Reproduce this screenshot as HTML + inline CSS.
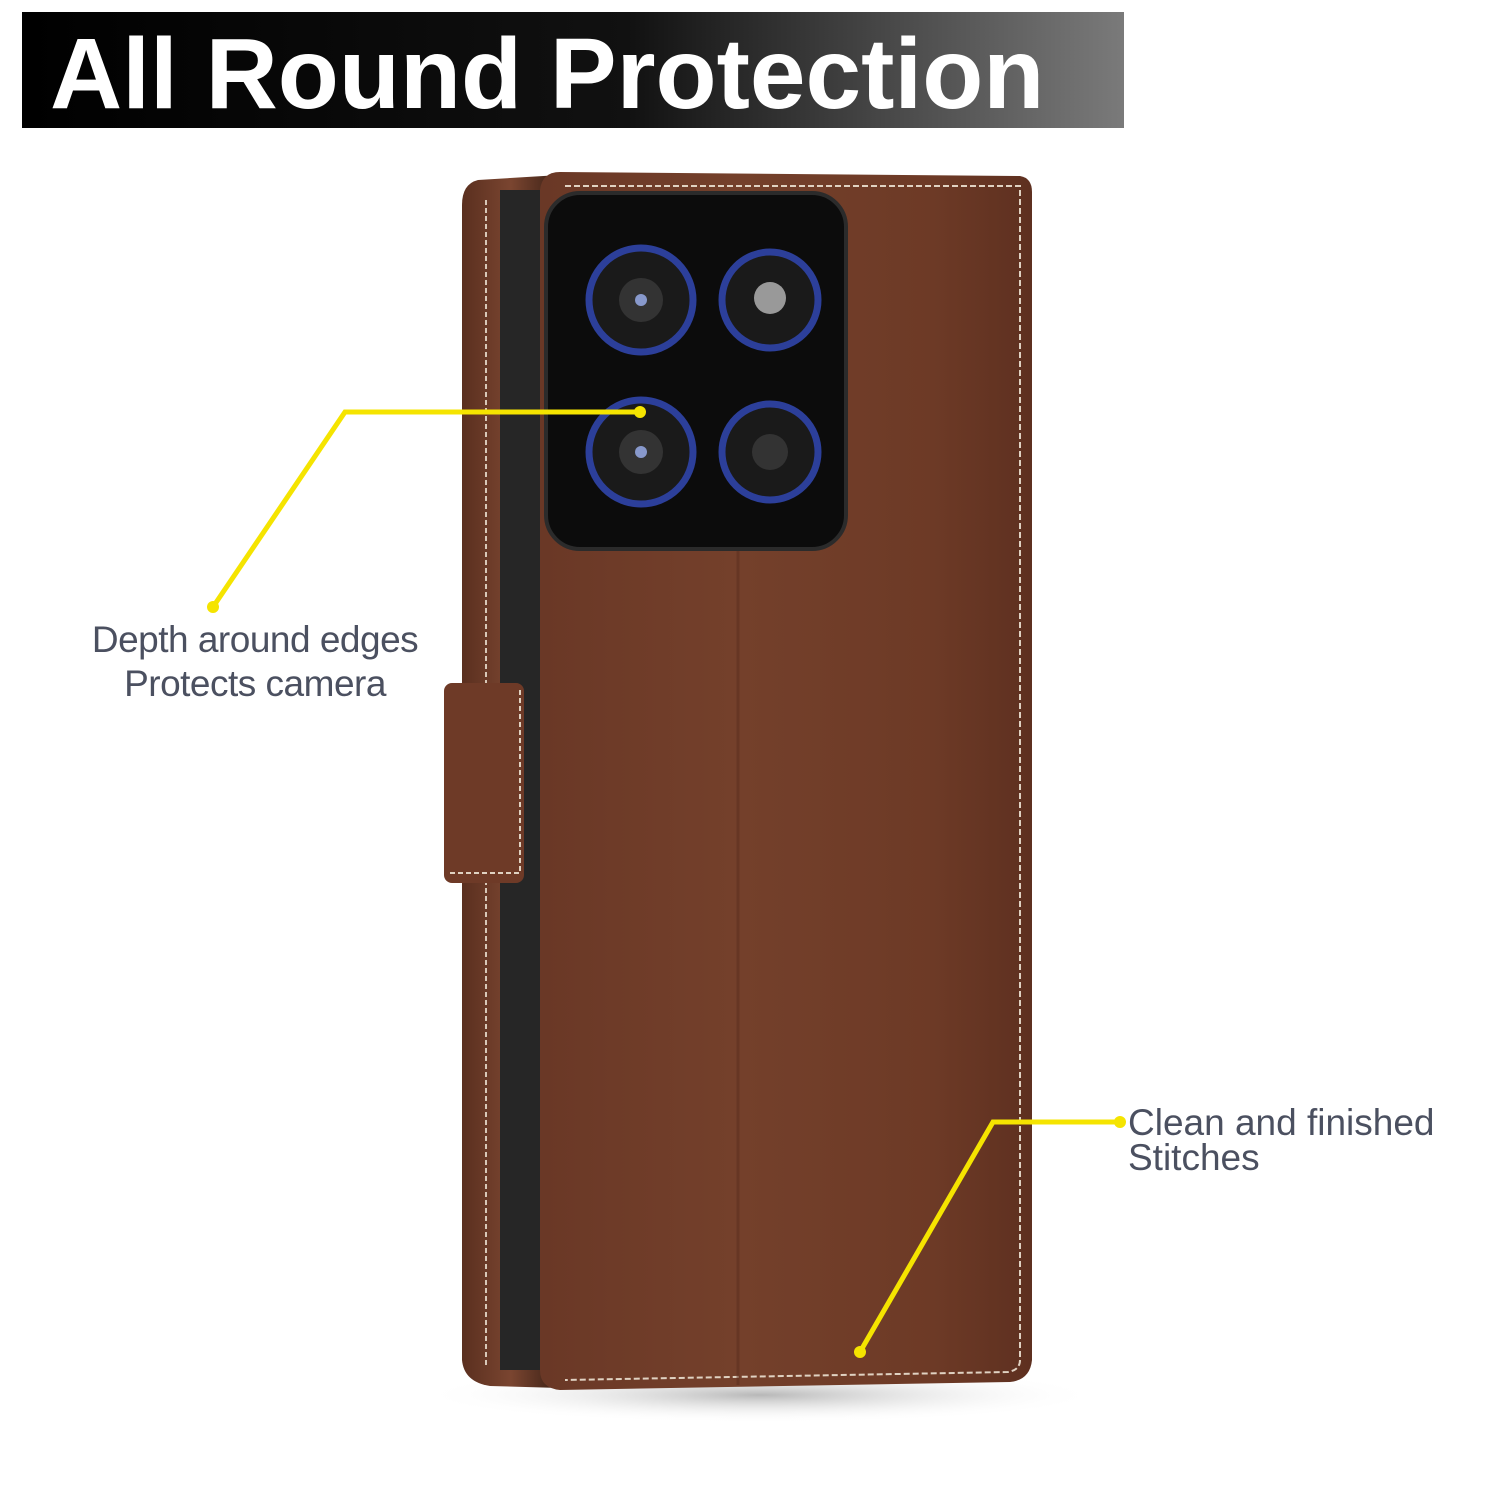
<!DOCTYPE html>
<html><head><meta charset="utf-8">
<style>
html,body{margin:0;padding:0;background:#fff;}
svg{display:block;}
</style></head>
<body>
<svg width="1500" height="1500" viewBox="0 0 1500 1500" xmlns="http://www.w3.org/2000/svg">
<defs>
<linearGradient id="tb" x1="0" x2="1" y1="0" y2="0">
<stop offset="0" stop-color="#000"/><stop offset="0.55" stop-color="#111"/><stop offset="1" stop-color="#7a7a7a"/>
</linearGradient>
<linearGradient id="back" x1="0" x2="1" y1="0" y2="0">
<stop offset="0" stop-color="#6a3826"/><stop offset="0.4" stop-color="#74402b"/><stop offset="0.8" stop-color="#6d3a26"/><stop offset="1" stop-color="#5e3020"/>
</linearGradient>
<linearGradient id="spine" x1="0" x2="1">
<stop offset="0" stop-color="#5a2f1f"/><stop offset="0.5" stop-color="#7a4530"/><stop offset="1" stop-color="#3a2015"/>
</linearGradient>
<radialGradient id="sh" cx="0.5" cy="0.5" r="0.5">
<stop offset="0" stop-color="#999" stop-opacity="0.7"/><stop offset="1" stop-color="#fff" stop-opacity="0"/>
</radialGradient>
</defs>
<rect x="22" y="12" width="1102" height="116" fill="url(#tb)"/>
<text x="50" y="108" font-family="Liberation Sans, sans-serif" font-weight="bold" font-size="100" fill="#fff">All Round Protection</text>

<ellipse cx="760" cy="1395" rx="340" ry="28" fill="url(#sh)"/>
<path d="M478 180 Q462 184 462 205 L462 1360 Q464 1382 490 1386 L560 1388 L560 175 Z" fill="url(#spine)"/>
<rect x="500" y="190" width="40" height="1180" fill="#262626"/>
<path d="M486 200 L486 1365" stroke="#d8c8b8" stroke-width="2" stroke-dasharray="5 3" fill="none"/>
<path d="M560 172 L1020 176 Q1032 178 1032 192 L1032 1360 Q1030 1380 1010 1382 L560 1390 Q540 1388 540 1370 L540 190 Q542 172 560 172 Z" fill="url(#back)"/>
<path d="M565 186 L1020 186 L1020 1360 Q1020 1370 1008 1372 L565 1380" stroke="#e0d2c2" stroke-width="2" stroke-dasharray="6 3" fill="none"/>
<line x1="738" y1="540" x2="738" y2="1385" stroke="#5a2e1e" stroke-width="3" opacity="0.5"/>
<rect x="444" y="683" width="80" height="200" rx="8" fill="#6e3a27"/>
<path d="M450 873 L520 873 L520 690" stroke="#e0d2c2" stroke-width="2" stroke-dasharray="5 3" fill="none"/>
<rect x="546" y="193" width="300" height="356" rx="34" fill="#0c0c0c" stroke="#2b2b2b" stroke-width="4"/>
<g fill="#1a1a1a" stroke="#2c3f9a" stroke-width="7">
<circle cx="641" cy="300" r="52"/><circle cx="770" cy="300" r="48"/>
<circle cx="641" cy="452" r="52"/><circle cx="770" cy="452" r="48"/>
</g>
<g fill="#333"><circle cx="641" cy="300" r="22"/><circle cx="641" cy="452" r="22"/><circle cx="770" cy="452" r="18"/></g>
<circle cx="770" cy="298" r="16" fill="#999"/>
<g fill="#8899cc"><circle cx="641" cy="300" r="6"/><circle cx="641" cy="452" r="6"/></g>
<polyline points="640,412 345,412 213,607" fill="none" stroke="#f5e400" stroke-width="5"/>
<circle cx="640" cy="412" r="6" fill="#f5e400"/><circle cx="213" cy="607" r="6" fill="#f5e400"/>
<polyline points="860,1352 993,1122 1120,1122" fill="none" stroke="#f5e400" stroke-width="5"/>
<circle cx="860" cy="1352" r="6" fill="#f5e400"/><circle cx="1120" cy="1122" r="6" fill="#f5e400"/>
<g font-family="Liberation Sans, sans-serif" font-size="37" fill="#4b5060">
<text x="255" y="652" text-anchor="middle" letter-spacing="-0.5">Depth around edges</text>
<text x="255" y="696" text-anchor="middle" letter-spacing="-0.5">Protects camera</text>
<text x="1128" y="1135">Clean and finished</text>
<text x="1128" y="1170">Stitches</text>
</g>
</svg>
</body></html>
